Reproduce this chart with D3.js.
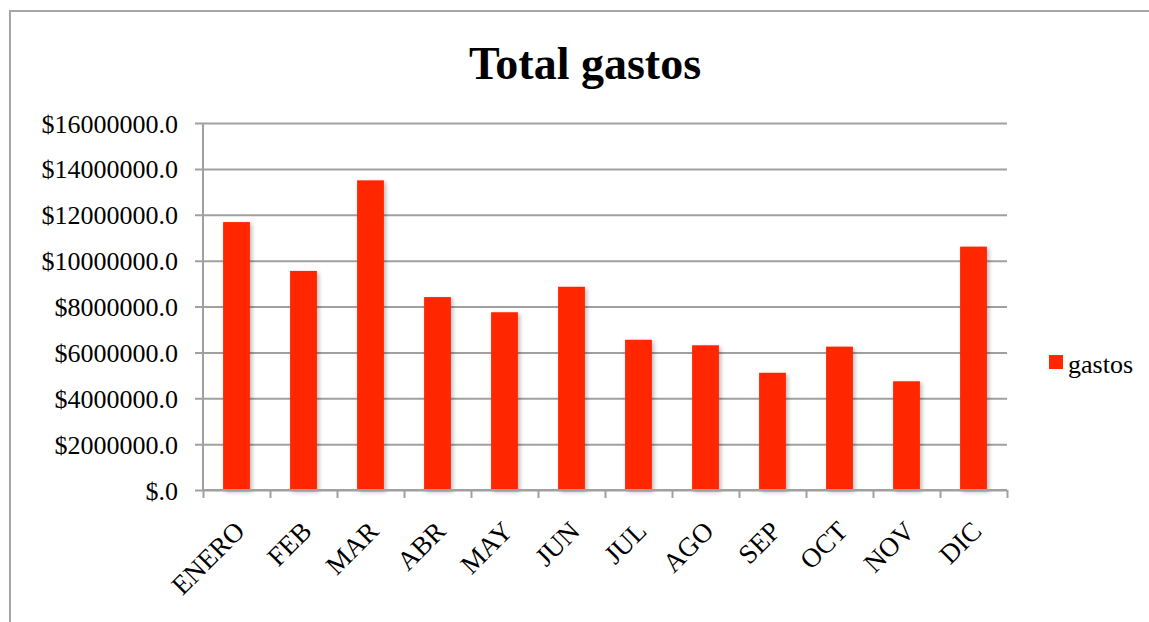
<!DOCTYPE html>
<html>
<head>
<meta charset="utf-8">
<script src="https://cdn.jsdelivr.net/npm/d3@7"></script>
<style>
  body { margin: 0; background: #fff; }
  svg { display: block; font-family: "Liberation Serif", "Times New Roman", serif; }
</style>
</head>
<body>
<svg id="chart" width="1149" height="622"></svg>
<script>
// datos
var meses = ["ENERO","FEB","MAR","ABR","MAY","JUN","JUL","AGO","SEP","OCT","NOV","DIC"];
var gastos = [11680000, 9550000, 13500000, 8410000, 7750000, 8860000, 6550000, 6310000, 5110000, 6250000, 4740000, 10610000];
var yTicks = [0, 2000000, 4000000, 6000000, 8000000, 10000000, 12000000, 14000000, 16000000];
var serie = "gastos";
var titulo = "Total gastos";

var svg = d3.select("#chart");
var pLeft = 203, pRight = 1007, pTop = 123, pBottom = 490;

// marco exterior
svg.append("rect").attr("x", 10).attr("y", 11).attr("width", 1145).attr("height", 650)
  .attr("fill", "none").attr("stroke", "#a6a6a6").attr("stroke-width", 2);

var defs = svg.append("defs");
var f = defs.append("filter").attr("id", "sombra").attr("x", "-30%").attr("y", "-10%").attr("width", "160%").attr("height", "130%");
f.append("feDropShadow").attr("dx", 2).attr("dy", 2).attr("stdDeviation", 2)
  .attr("flood-color", "#000").attr("flood-opacity", 0.28);

var x = d3.scaleBand().domain(meses).range([pLeft, pRight]).paddingInner(0.6).paddingOuter(0.3);
var xl = d3.scaleLinear().domain([0, meses.length]).range([pLeft, pRight]);
var y = d3.scaleLinear().domain([0, 16000000]).range([pBottom, pTop]);

// rejilla + eje y
var gy = svg.append("g").attr("transform", "translate(" + pLeft + ",0)")
  .call(d3.axisLeft(y).tickValues(yTicks).tickSize(8)
    .tickFormat(function(d){ return d === 0 ? "$.0" : "$" + d + ".0"; }));
gy.select(".domain").remove();
gy.selectAll(".tick line").attr("x2", pRight - pLeft).attr("x1", -8)
  .attr("stroke", "#a0a0a0").attr("stroke-width", 2);
gy.selectAll(".tick text").attr("x", -25).attr("dy", "0.35em")
  .style("font-size", "26px").style("font-family", "Liberation Serif, Times New Roman, serif").attr("fill", "#000");
gy.append("line").attr("x1", 0).attr("x2", 0).attr("y1", pTop).attr("y2", pBottom)
  .attr("stroke", "#a0a0a0").attr("stroke-width", 2);

// barras
svg.selectAll("rect.barra").data(gastos).enter().append("rect")
  .attr("class", "barra")
  .attr("x", function(d, i){ return x(meses[i]); })
  .attr("width", x.bandwidth())
  .attr("y", function(d){ return y(d); })
  .attr("height", function(d){ return y(0) - y(d); })
  .attr("fill", "#ff2600")
  .attr("filter", "url(#sombra)");

// eje x: marcas en los limites de cada categoria
var gx = svg.append("g").attr("transform", "translate(0," + pBottom + ")")
  .call(d3.axisBottom(xl).tickValues(d3.range(meses.length + 1)).tickSize(8).tickFormat(""));
gx.selectAll("line, path").attr("stroke", "#a0a0a0").attr("stroke-width", 2);
gx.select(".domain").attr("d", "M" + pLeft + ",0H" + pRight);

var gl = svg.append("g").attr("transform", "translate(0," + pBottom + ")")
  .call(d3.axisBottom(x).tickSize(0));
gl.select(".domain").remove();
gl.selectAll(".tick text")
  .attr("text-anchor", "end")
  .attr("transform", "translate(3,36) rotate(-45)")
  .attr("x", 0).attr("y", 0).attr("dy", "0.35em")
  .style("font-size", "27px").style("font-family", "Liberation Serif, Times New Roman, serif").attr("fill", "#000");

// titulo
svg.append("text").attr("x", 585).attr("y", 79).attr("text-anchor", "middle")
  .style("font-size", "46px").style("font-weight", "bold").text(titulo);

// leyenda
svg.append("rect").attr("x", 1049).attr("y", 355).attr("width", 14).attr("height", 14).attr("fill", "#ff2600");
svg.append("text").attr("x", 1068).attr("y", 373).style("font-size", "26px").text(serie);
</script>
</body>
</html>
